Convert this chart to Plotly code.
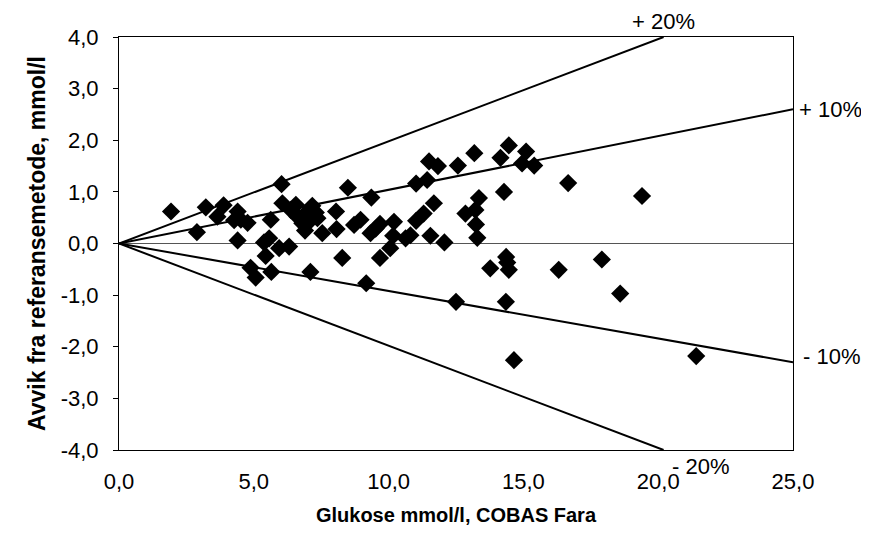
import plotly.graph_objects as go

# Measured glucose (COBAS Fara), mmol/l
glucose = [1.93, 2.89, 3.22, 3.65, 3.88, 4.27, 4.40, 4.52, 4.77, 4.40, 5.63, 6.03, 6.06,
           6.37, 6.56, 6.62, 6.80, 6.90, 6.99, 7.05, 7.17, 7.30, 7.36, 7.54, 8.05, 8.07,
           8.49, 8.72, 8.96, 9.36, 9.33, 9.52, 9.68, 10.20, 10.17, 10.63, 10.81, 11.02,
           11.30, 11.68, 11.55, 12.07, 11.02, 11.43, 11.50, 11.83, 12.57, 13.18, 14.15,
           14.46, 15.10, 14.95, 15.40, 16.66, 14.28, 13.35, 12.85, 13.22, 13.24, 13.29,
           5.38, 5.57, 5.94, 6.31, 5.44, 4.88, 5.07, 5.65, 7.10, 8.28, 9.17, 9.68, 10.06,
           12.50, 13.77, 14.36, 14.40, 14.46, 14.35, 14.65, 16.31, 17.91, 18.59, 19.40,
           21.41]
# Deviation from reference method, mmol/l
deviation = [0.62, 0.22, 0.70, 0.52, 0.74, 0.45, 0.62, 0.46, 0.40, 0.06, 0.46, 1.15, 0.78,
             0.65, 0.75, 0.52, 0.39, 0.25, 0.62, 0.42, 0.73, 0.60, 0.49, 0.20, 0.62, 0.28,
             1.08, 0.36, 0.46, 0.89, 0.20, 0.29, 0.38, 0.42, 0.15, 0.10, 0.16, 0.44,
             0.58, 0.78, 0.15, 0.02, 1.16, 1.23, 1.59, 1.50, 1.51, 1.75, 1.66,
             1.90, 1.78, 1.55, 1.51, 1.17, 1.00, 0.88, 0.58, 0.65, 0.37, 0.11,
             0.02, 0.10, -0.09, -0.06, -0.24, -0.47, -0.66, -0.55, -0.55, -0.28, -0.77, -0.28, -0.09,
             -1.13, -0.48, -0.26, -0.37, -0.51, -1.13, -2.26, -0.51, -0.31, -0.97, 0.92,
             -2.18]

# Limit lines (end points as drawn)
lim10_x = [0, 25]
lim_plus10_y = [0, 2.6]
lim_minus10_y = [0, -2.3]
lim20_x = [0, 20.2]
lim_plus20_y = [0, 4.0]
lim_minus20_y = [0, -4.0]

x_ticks = [0, 5, 10, 15, 20, 25]
x_tick_text = ["0,0", "5,0", "10,0", "15,0", "20,0", "25,0"]
y_ticks = [-4, -3, -2, -1, 0, 1, 2, 3, 4]
y_tick_text = ["-4,0", "-3,0", "-2,0", "-1,0", "0,0", "1,0", "2,0", "3,0", "4,0"]

FONT = "Liberation Sans, Arial, sans-serif"
TXT = 22

fig = go.Figure()
line_style = dict(color="black", width=2)
for lx, ly in [(lim20_x, lim_plus20_y), (lim10_x, lim_plus10_y),
               (lim10_x, lim_minus10_y), (lim20_x, lim_minus20_y)]:
    fig.add_trace(go.Scatter(x=lx, y=ly, mode="lines", line=line_style,
                             hoverinfo="skip", showlegend=False))

fig.add_trace(go.Scatter(x=glucose, y=deviation, mode="markers",
                         marker=dict(symbol="diamond", size=14, color="black"),
                         showlegend=False))

ann_font = dict(family=FONT, size=TXT, color="black")
fig.add_annotation(x=lim20_x[1], y=lim_plus20_y[1], text="+ 20%", showarrow=False,
                   xanchor="center", yanchor="bottom", yshift=1, font=ann_font)
fig.add_annotation(x=lim10_x[1], y=lim_plus10_y[1], text="+ 10%", showarrow=False,
                   xanchor="left", yanchor="middle", xshift=4, font=ann_font)
fig.add_annotation(x=lim10_x[1], y=lim_minus10_y[1], text="- 10%", showarrow=False,
                   xanchor="left", yanchor="middle", xshift=8, yshift=6, font=ann_font)
fig.add_annotation(x=lim20_x[1], y=lim_minus20_y[1], text="- 20%", showarrow=False,
                   xanchor="left", yanchor="top", xshift=6, yshift=-2, font=ann_font)

fig.update_layout(
    width=869, height=546,
    margin=dict(l=111, r=84, t=29, b=104),
    paper_bgcolor="white", plot_bgcolor="white",
    font=dict(family=FONT, size=TXT, color="black"),
    xaxis=dict(range=[0, 25], tickvals=x_ticks, ticktext=x_tick_text,
               showgrid=False, zeroline=False, showline=True, mirror=True,
               linecolor="black", linewidth=1, ticks="", ticklabelstandoff=12,
               tickfont=dict(family=FONT, size=TXT, color="black"),
               title=dict(text="<b>Glukose mmol/l, COBAS Fara</b>", standoff=14,
                          font=dict(family=FONT, size=20, color="black"))),
    yaxis=dict(range=[-4, 4], tickvals=y_ticks, ticktext=y_tick_text,
               showgrid=False, zeroline=True, zerolinecolor="#555555", zerolinewidth=1,
               showline=True, mirror=True, linecolor="black", linewidth=1,
               ticks="outside", ticklen=5, tickcolor="black", ticklabelstandoff=10,
               tickfont=dict(family=FONT, size=TXT, color="black"),
               title=dict(text="<b>Avvik fra referansemetode, mmol/l</b>", standoff=8,
                          font=dict(family=FONT, size=23, color="black"))),
)

fig.write_html("out.html")
